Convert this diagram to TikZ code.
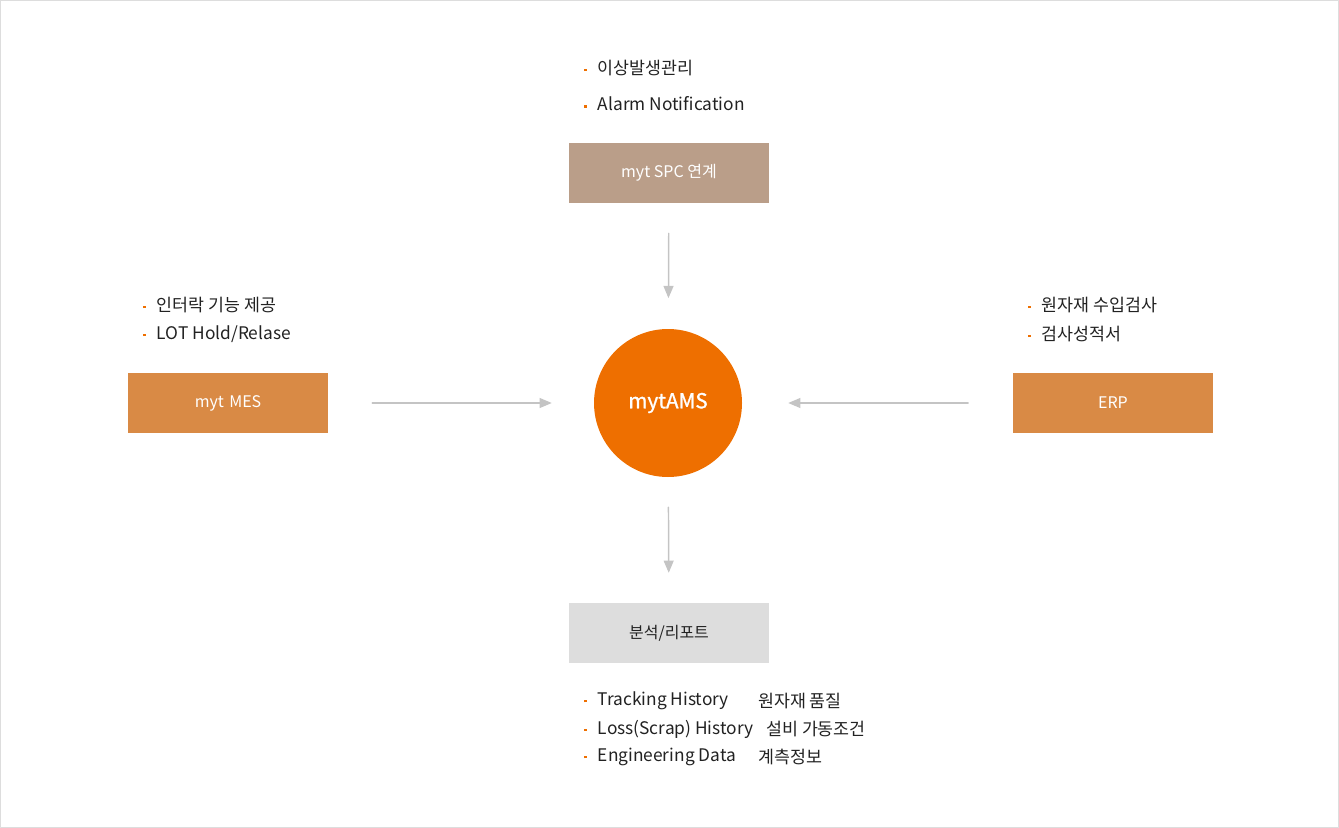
\documentclass[tikz,border=0pt]{standalone}
\usepackage{fontspec}
\setmainfont{Noto Sans CJK KR}
\newfontfamily\amsfont[FakeBold=1.2]{Noto Sans CJK KR}
\usepackage{xcolor}
\usepackage{tikz}
\usetikzlibrary{arrows}
\definecolor{amsorange}{HTML}{EE6F00}
\definecolor{boxorange}{HTML}{D98A45}
\definecolor{boxbrown}{HTML}{BA9E89}
\definecolor{boxgray}{HTML}{DDDDDD}
\definecolor{linegray}{HTML}{C4C4C4}
\definecolor{framegray}{HTML}{DDDDDD}
\definecolor{txt}{HTML}{222222}
\newcommand{\bul}{\textcolor{amsorange}{\rule[0.35ex]{1.7pt}{1.7pt}}\hspace{8.5pt}}

\begin{document}
\begin{tikzpicture}[line cap=round,line join=round,>=triangle 45,x=0.75pt,y=-0.75pt,
	sys/.style={minimum width=150pt,minimum height=45pt,inner sep=0pt,text=white,font=\fontsize{12}{14}\selectfont},
	item/.style={anchor=west,inner sep=0pt,text=txt,font=\fontsize{13}{15}\selectfont},
	flow/.style={->,color=linegray,line width=1.1pt}]
	\useasboundingbox (0,0) rectangle (1339,828);
	\draw [color=framegray] (0.5,0.5) rectangle (1338.5,827.5);
	% systems
	\node[sys,fill=boxbrown] (spc) at (669,173) {myt SPC 연계};
	\node[sys,fill=boxorange] (mes) at (228,403) {myt\hspace{4pt}MES};
	\node[sys,fill=boxorange] (erp) at (1113,403) {ERP};
	\node[sys,fill=boxgray,text=txt] (rep) at (669,633) {분석/리포트};
	\node[circle,fill=amsorange,minimum size=111pt,inner sep=0pt,text=white,font=\amsfont\fontsize{15.5}{18}\selectfont] (ams) at (668,403) {mytAMS};
	% connectors
	\draw [flow,shorten <=22.5pt,shorten >=23pt] (spc) -- (ams);
	\draw [flow,shorten <=33pt,shorten >=31.5pt] (mes) -- (ams);
	\draw [flow,shorten <=33.5pt,shorten >=34.5pt] (erp) -- (ams);
	\draw [flow,shorten <=22.5pt,shorten >=22.5pt] (ams) -- (rep);
	% lists
	\node[item] (spc1) at (584,68) {\bul 이상발생관리};
	\node[item] (spc2) at (584,104) {\bul Alarm Notification};
	\node[item] (mes1) at (143,305) {\bul 인터락 기능 제공};
	\node[item] (mes2) at (143,334) {\bul LOT Hold/Relase};
	\node[item] (erp1) at (1028,305) {\bul 원자재 수입검사};
	\node[item] (erp2) at (1028,334) {\bul 검사성적서};
	\node[item] (rep1) at (584,701) {\bul Tracking History};
	\node[item] (rep2) at (584,729) {\bul Loss(Scrap) History};
	\node[item] (rep3) at (584,757) {\bul Engineering Data};
	\node[item] (rep1k) at (758,701) {원자재 품질};
	\node[item] (rep2k) at (766,729) {설비 가동조건};
	\node[item] (rep3k) at (758,757) {계측정보};
\end{tikzpicture}
\end{document}
